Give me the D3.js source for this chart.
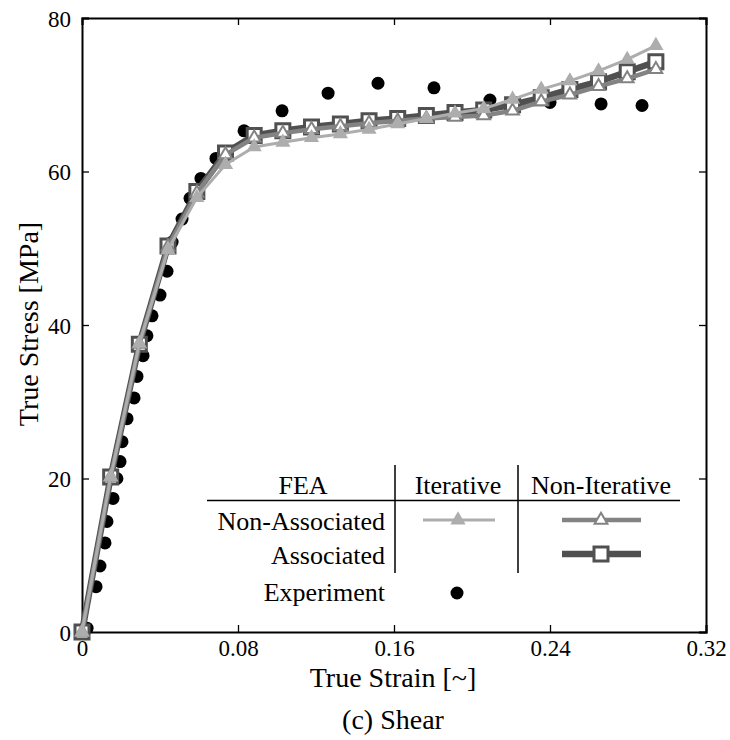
<!DOCTYPE html>
<html>
<head>
<meta charset="utf-8">
<script src="https://cdn.jsdelivr.net/npm/d3@7"></script>
<style>
  body { margin: 0; background: #fff; }
  text { font-family: "Liberation Serif", "Times New Roman", serif; fill: #000; }
</style>
</head>
<body>
<div id="chart"></div>
<script>
// Experiment (black dots)
var expStrain = [0.0026, 0.0072, 0.0092, 0.0118, 0.0128, 0.0159, 0.0179, 0.0195, 0.0205, 0.0231,
                 0.0267, 0.0282, 0.0313, 0.0333, 0.0359, 0.0400, 0.0436, 0.0462, 0.0513, 0.0554,
                 0.0610, 0.0687, 0.0831, 0.1026, 0.1262, 0.1518, 0.1805, 0.2092, 0.2400, 0.2662, 0.2872];
var expStress = [0.5, 5.9, 8.6, 11.6, 14.4, 17.4, 20.0, 22.2, 24.8, 27.8,
                 30.5, 33.3, 36.0, 38.6, 41.2, 43.9, 47.0, 50.8, 53.8, 56.5,
                 59.1, 61.7, 65.3, 67.9, 70.2, 71.5, 70.9, 69.3, 69.0, 68.8, 68.6];

// FEA strain steps
var feaStrain = [0, 0.0147, 0.0294, 0.0441, 0.0589, 0.0736, 0.0883, 0.1030, 0.1177, 0.1325, 0.1472,
                 0.1619, 0.1766, 0.1913, 0.2060, 0.2208, 0.2355, 0.2502, 0.2649, 0.2796, 0.2943];
// Iterative, Non-Associated
var iterNonAssoc = [0, 20.2, 37.6, 49.8, 56.6, 60.9, 63.2, 63.8, 64.4, 64.9, 65.5,
                    66.2, 66.9, 67.6, 68.2, 69.4, 70.7, 71.8, 73.1, 74.6, 76.4];
// Non-Iterative, Non-Associated
var nonIterNonAssoc = [0, 20.2, 37.5, 50.2, 57.2, 62.2, 64.4, 65.0, 65.5, 65.9, 66.3,
                       66.6, 66.9, 67.1, 67.3, 67.9, 69.1, 70.0, 71.1, 72.1, 73.3];
// Non-Iterative, Associated
var nonIterAssoc = [0, 20.2, 37.5, 50.3, 57.4, 62.4, 64.7, 65.3, 65.8, 66.2, 66.6,
                    66.9, 67.3, 67.7, 68.0, 68.7, 69.6, 70.7, 71.7, 73.0, 74.3];

var xTicks = [0, 0.08, 0.16, 0.24, 0.32];
var yTicks = [0, 20, 40, 60, 80];

var colLight = "#adadad", colMid = "#838383", colDark = "#505050";

var margin = { top: 18, left: 82 },
    width = 624, height = 614;

var svg = d3.select("#chart").append("svg")
  .attr("width", 730).attr("height", 740);

var g = svg.append("g")
  .attr("transform", "translate(" + margin.left + "," + margin.top + ")");

var x = d3.scaleLinear().domain([0, 0.32]).range([0, width]);
var y = d3.scaleLinear().domain([0, 80]).range([height, 0]);

// axes with inward ticks on all four sides
var fmtX = function(d) { return d === 0 ? "0" : d3.format(".2f")(d); };
var axB = g.append("g").attr("transform", "translate(0," + height + ")")
  .call(d3.axisBottom(x).tickValues(xTicks).tickSize(-7).tickPadding(8).tickFormat(fmtX));
var axT = g.append("g")
  .call(d3.axisTop(x).tickValues(xTicks).tickSize(-7).tickFormat(""));
var axL = g.append("g")
  .call(d3.axisLeft(y).tickValues(yTicks).tickSize(-7).tickPadding(11));
var axR = g.append("g").attr("transform", "translate(" + width + ",0)")
  .call(d3.axisRight(y).tickValues(yTicks).tickSize(-7).tickFormat(""));

[axB, axT, axL, axR].forEach(function(a) {
  a.select(".domain").attr("stroke", "#000").attr("stroke-width", 2);
  a.selectAll(".tick line").attr("stroke", "#000").attr("stroke-width", 1.3);
  a.selectAll(".tick text").style("font-size", "23px").attr("fill", "#000");
});
axB.selectAll(".tick text").attr("dy", "0.71em");
axL.selectAll(".tick text").attr("dy", "0.35em");

// experiment dots (drawn first, behind curves)
var expData = expStrain.map(function(s, i) { return { x: s, y: expStress[i] }; });
g.append("g").selectAll("circle").data(expData).enter().append("circle")
  .attr("cx", function(d) { return x(d.x); })
  .attr("cy", function(d) { return y(d.y); })
  .attr("r", 6.5)
  .attr("fill", "#000");

var line = d3.line().x(function(d) { return x(d.x); }).y(function(d) { return y(d.y); });

function series(vals) {
  return feaStrain.map(function(s, i) { return { x: s, y: vals[i] }; });
}

var sq = d3.symbol().type(d3.symbolSquare).size(196);
var triMid = d3.symbol().type(d3.symbolTriangle).size(70);
var triLight = d3.symbol().type(d3.symbolTriangle).size(100);

// Non-Iterative Associated
var dAssoc = series(nonIterAssoc);
g.append("path").datum(dAssoc).attr("d", line)
  .attr("fill", "none").attr("stroke", colDark).attr("stroke-width", 6.5).attr("stroke-linejoin", "round");
g.append("g").selectAll("path").data(dAssoc).enter().append("path")
  .attr("d", sq)
  .attr("transform", function(d) { return "translate(" + x(d.x) + "," + y(d.y) + ")"; })
  .attr("fill", "#fff").attr("stroke", colDark).attr("stroke-width", 3);

// Non-Iterative Non-Associated
var dNonAssoc = series(nonIterNonAssoc);
g.append("path").datum(dNonAssoc).attr("d", line)
  .attr("fill", "none").attr("stroke", colMid).attr("stroke-width", 4.5).attr("stroke-linejoin", "round");
g.append("g").selectAll("path").data(dNonAssoc).enter().append("path")
  .attr("d", triMid)
  .attr("transform", function(d) { return "translate(" + x(d.x) + "," + y(d.y) + ")"; })
  .attr("fill", "#fff").attr("stroke", colMid).attr("stroke-width", 2);

// Iterative Non-Associated
var dIter = series(iterNonAssoc);
g.append("path").datum(dIter).attr("d", line)
  .attr("fill", "none").attr("stroke", colLight).attr("stroke-width", 3).attr("stroke-linejoin", "round");
g.append("g").selectAll("path").data(dIter).enter().append("path")
  .attr("d", triLight)
  .attr("transform", function(d) { return "translate(" + x(d.x) + "," + y(d.y) + ")"; })
  .attr("fill", colLight);

// axis titles
svg.append("text").attr("x", 393).attr("y", 687)
  .attr("text-anchor", "middle").style("font-size", "28px").text("True Strain [~]");
svg.append("text").attr("transform", "translate(28,324) rotate(-90)").attr("dy", "0.35em")
  .attr("text-anchor", "middle").style("font-size", "28px").text("True Stress [MPa]");
svg.append("text").attr("x", 393).attr("y", 729)
  .attr("text-anchor", "middle").style("font-size", "28px").text("(c) Shear");

// legend table
var lg = svg.append("g");
lg.append("line").attr("x1", 207).attr("x2", 680).attr("y1", 500.5).attr("y2", 500.5)
  .attr("stroke", "#000").attr("stroke-width", 1.5);
[395, 518].forEach(function(vx) {
  lg.append("line").attr("x1", vx).attr("x2", vx).attr("y1", 465).attr("y2", 573)
    .attr("stroke", "#000").attr("stroke-width", 1.5);
});
function lgText(tx, ty, s, anchor) {
  lg.append("text").attr("x", tx).attr("y", ty).attr("dy", "0.35em")
    .attr("text-anchor", anchor).style("font-size", "26px").text(s);
}
lgText(303, 485, "FEA", "middle");
lgText(458, 485, "Iterative", "middle");
lgText(601, 485, "Non-Iterative", "middle");
lgText(385, 521, "Non-Associated", "end");
lgText(385, 555, "Associated", "end");
lgText(385, 592, "Experiment", "end");

lg.append("line").attr("x1", 423).attr("x2", 495).attr("y1", 520).attr("y2", 520)
  .attr("stroke", colLight).attr("stroke-width", 3);
lg.append("path").attr("d", triLight).attr("transform", "translate(458,520)").attr("fill", colLight);
lg.append("line").attr("x1", 562).attr("x2", 641).attr("y1", 520).attr("y2", 520)
  .attr("stroke", colMid).attr("stroke-width", 4.5);
lg.append("path").attr("d", triMid).attr("transform", "translate(601,520)")
  .attr("fill", "#fff").attr("stroke", colMid).attr("stroke-width", 2);
lg.append("line").attr("x1", 562).attr("x2", 641).attr("y1", 554).attr("y2", 554)
  .attr("stroke", colDark).attr("stroke-width", 6.5);
lg.append("path").attr("d", sq).attr("transform", "translate(601,554)")
  .attr("fill", "#fff").attr("stroke", colDark).attr("stroke-width", 3);
lg.append("circle").attr("cx", 457).attr("cy", 593).attr("r", 6.5).attr("fill", "#000");
</script>
</body>
</html>
